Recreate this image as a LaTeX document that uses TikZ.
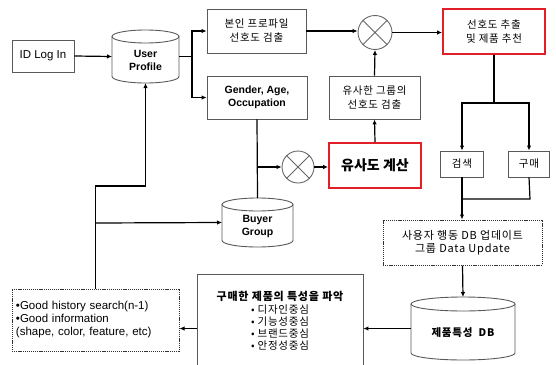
\documentclass[tikz,border=0pt]{standalone}
\usepackage{fontspec}
\setmainfont{Liberation Sans}
\newfontfamily\kr{Noto Sans CJK KR}[LetterSpace=7]
\newfontfamily\krtight{Noto Sans CJK KR}
\usetikzlibrary{arrows.meta,calc}
\definecolor{boxred}{RGB}{226,30,38}
\newcommand\drawcyl[3]{%
  \draw[cylbody] ($(#1.north west)+(0,#3)$) -- ($(#1.south west)+(0,-#3)$)
    arc[start angle=180,end angle=360,x radius=#2pt,y radius=#3pt]
    -- ($(#1.north east)+(0,#3)$);
  \draw[cylbody] ($(#1.north)+(0,#3)$) ellipse[x radius=#2pt,y radius=#3pt];
}
\begin{document}
\begin{tikzpicture}[x=1pt,y=-1pt,
  box/.style={draw=black!65, line width=0.9pt, rectangle, inner sep=0pt, align=center},
  redbox/.style={draw=boxred, line width=1.8pt, rectangle, inner sep=0pt, align=center},
  dotbox/.style={draw=black!80, line width=1pt, dash pattern=on 1.2pt off 0.9pt, rectangle, inner sep=0pt},
  conn/.style={line width=1.2pt, black},
  arr/.style={conn, -{Latex[length=5pt,width=4.5pt]}},
  cylbody/.style={draw=black!65, line width=0.9pt},
  ghost/.style={rectangle, inner sep=0pt, outer sep=0pt},
  xc/.style={circle, draw=black!60, line width=0.9pt, inner sep=0pt},
  enb/.style={font=\bfseries\fontsize{10.5}{13}\selectfont},
  ko/.style={font=\kr\fontsize{10.5}{14}\selectfont},
]
\useasboundingbox (0,0) rectangle (556,364);

% boxes
\node[box, font=\fontsize{11.5}{13}\selectfont, minimum width=62pt, minimum height=32pt] (id) at (43,56) {ID Log In};
\node[box, ko, minimum width=99pt, minimum height=44pt] (b1) at (256.5,31) {본인 프로파일\\선호도 검출};
\node[box, enb, minimum width=100pt, minimum height=43pt] (g) at (257,97.5) {Gender, Age,\\Occupation};
\node[redbox, ko, minimum width=102pt, minimum height=45pt] (r1) at (494,31.5) {선호도 추출\\및 제품 추천};
\node[box, ko, minimum width=91pt, minimum height=43pt] (s) at (374.5,97.5) {유사한 그룹의\\선호도 검출};
\node[redbox, font=\krtight\bfseries\fontsize{14}{16}\selectfont, minimum width=92pt, minimum height=45pt] (r2) at (375,165.5) {유사도 계산};
\node[box, font=\kr\fontsize{10.5}{12}\selectfont, minimum width=43pt, minimum height=26pt] (k1) at (462,164) {검색};
\node[box, font=\kr\fontsize{10.5}{12}\selectfont, minimum width=41pt, minimum height=26pt] (k2) at (529,164) {구매};
\node[dotbox, font=\kr\fontsize{11}{12.5}\selectfont, align=center, minimum width=159pt, minimum height=45pt] (d1) at (462.5,242.5) {사용자 행동 DB 업데이트\\그룹 Data Update};
\node[box, font=\kr\fontsize{10.5}{12}\selectfont, minimum width=166pt, minimum height=94pt] (p) at (280,321) {{\bfseries\fontsize{11}{12}\selectfont 구매한 제품의 특성을 파악}\\[1pt]• 디자인중심\\• 기능성중심\\• 브랜드중심\\• 안정성중심};
\node[dotbox, font=\fontsize{11.5}{13}\selectfont, align=left, text width=159pt, inner xsep=4pt, minimum width=167pt, minimum height=62pt] (d2) at (95.5,320) {•Good history search(n-1)\\•Good information\\(shape, color, feature, etc)};

% cylinders
\node[ghost, minimum width=67pt, minimum height=53pt] (up) at (145.5,56.5) {};
\drawcyl{up}{33.5}{6.5}
\node[enb, align=center] at ($(up.center)+(0,4)$) {User\\Profile};
\node[ghost, minimum width=71pt, minimum height=49pt] (bg) at (257.5,222.5) {};
\drawcyl{bg}{35.5}{6.5}
\node[enb, align=center] at ($(bg.center)+(0,4)$) {Buyer\\Group};
\node[ghost, minimum width=104pt, minimum height=63pt] (db) at (463,328.5) {};
\drawcyl{db}{52}{7}
\node[font=\kr\bfseries\fontsize{10.5}{13}\selectfont] at ($(db.center)+(0,4)$) {제품특성\hspace{0.6em}DB};

% cross circles
\node[xc, minimum size=34pt] (c1) at (375,32.5) {};
\draw[black!60, line width=0.8pt] (c1.north west) -- (c1.south east) (c1.north east) -- (c1.south west);
\node[xc, minimum size=32pt] (c2) at (298,167) {};
\draw[black!60, line width=0.8pt] (c2.north west) -- (c2.south east) (c2.north east) -- (c2.south west);

% junction coordinates
\coordinate (j1) at (192,56.5);
\coordinate (j2) at (494,103);
\coordinate (j3) at (257,167);
\coordinate (j4) at (530,199);
\coordinate (j5) at (462,199);
\coordinate (j6) at (95.5,186);
\coordinate (j7) at (95.5,223);

% connectors
\draw[arr] (id.east) -- (up.west);
\draw[conn] (up.east) -- (j1);
\draw[arr] (j1) |- (b1.west);
\draw[arr] (j1) |- (g.west);
\draw[arr] (b1.east) -- (b1.east -| c1.west);
\draw[arr] (c1.east) -- (c1.east -| r1.west);
\draw[arr] (s.north) -- (c1.south);
\draw[arr] (r2.north) -- (s.south);
\draw[conn] (g.south) -- (bg.north);
\draw[arr] (j3) -- (c2.west);
\draw[arr] (c2.east) -- (c2.east -| r2.west);
\draw[conn] (r1.south) -- (j2);
\draw[arr] (j2) -| (k1.north);
\draw[arr] (j2) -| (k2.north);
\draw[arr] (k1.south) -- (d1.north -| k1.south);
\draw[conn] (k2.south) -- (j4) -- (j5);
\draw[arr] (d1.south) -- (db.north);
\draw[arr] (db.west) -- (db.west -| p.east);
\draw[arr] (db.west -| p.west) -- (db.west -| d2.east);
\draw[arr] (d2.north) -- (j6) -| (up.south);
\draw[arr] (j7) -- (bg.west);
\end{tikzpicture}
\end{document}
